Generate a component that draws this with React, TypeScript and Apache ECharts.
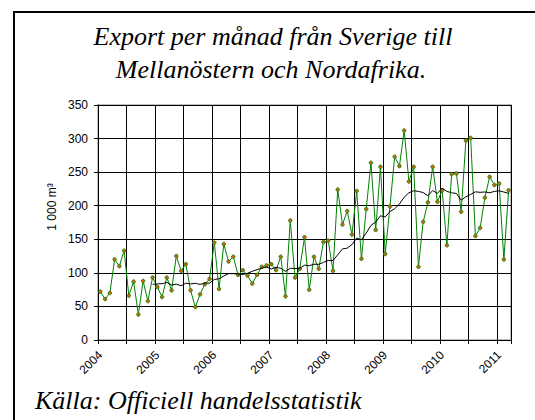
import React, { useEffect, useRef } from "react";
import * as echarts from "echarts";

const years = [2004, 2005, 2006, 2007, 2008, 2009, 2010, 2011];
const monthsInLastYear = 3;

// Monthly export, 1 000 m3
const exportValues = [
  72, 61, 70, 120, 110, 133, 66, 87, 38, 88, 58, 93,
  79, 64, 93, 74, 125, 103, 113, 74, 49, 68, 83, 91,
  145, 76, 143, 117, 124, 97, 104, 96, 84, 97, 109, 111,
  113, 104, 124, 65, 178, 93, 106, 153, 75, 124, 106, 146,
  148, 103, 224, 172, 192, 157, 222, 121, 195, 264, 164, 258,
  128, 199, 273, 259, 312, 236, 258, 109, 176, 205, 258, 206,
  223, 141, 247, 248, 191, 297, 301, 155, 167, 212, 243, 231,
  233, 120, 223,
];

// Trend line (12-month average)
const trendValues = [
  null, null, null, null, null, null, null, null, null, null, null, 83.0,
  83.6, 83.8, 85.8, 81.9, 83.2, 80.7, 84.6, 83.5, 84.4, 82.8, 84.8, 84.7,
  90.2, 91.2, 95.3, 98.9, 98.8, 98.3, 97.6, 99.4, 102.3, 104.8, 106.9, 108.6,
  105.9, 108.3, 106.7, 102.3, 106.8, 106.5, 106.7, 111.4, 110.7, 112.9, 112.7, 115.6,
  118.5, 118.4, 126.8, 135.7, 136.8, 142.2, 151.8, 149.2, 159.2, 170.8, 175.7, 185.0,
  183.3, 191.3, 195.4, 202.7, 212.7, 219.3, 222.3, 221.3, 219.7, 214.8, 222.6, 218.3,
  226.2, 221.3, 219.2, 218.3, 208.2, 213.3, 216.8, 220.7, 219.9, 220.5, 219.3, 221.3,
  222.2, 220.4, 218.4,
];

const yTicks = [0, 50, 100, 150, 200, 250, 300, 350];

const titleLines = ["Export per månad från Sverige till", "Mellanöstern och Nordafrika."];
const sourceText = "Källa: Officiell handelsstatistik";
const yAxisName = "1 000 m³";

const categories: string[] = [];
years.forEach((y, yi) => {
  const n = yi === years.length - 1 ? monthsInLastYear : 12;
  for (let m = 1; m <= n; m++) categories.push(`${y}-${m < 10 ? "0" + m : m}`);
});

export default function App() {
  const ref = useRef<HTMLDivElement>(null);
  useEffect(() => {
    if (!ref.current) return;
    const chart = echarts.init(ref.current, null, { renderer: "svg" });
    const serif = "'Liberation Serif', 'Times New Roman', serif";
    const sans = "'Liberation Sans', Arial, sans-serif";
    chart.setOption({
      animation: false,
      backgroundColor: "#ffffff",
      grid: {
        left: 98,
        right: 24,
        top: 105,
        bottom: 80,
        show: true,
        borderColor: "#c0c0c0",
        borderWidth: 2,
        backgroundColor: "transparent",
      },
      xAxis: {
        type: "category",
        data: categories,
        boundaryGap: true,
        axisLine: { show: true, lineStyle: { color: "#000", width: 1 } },
        axisTick: { show: true, interval: 5, length: 4, lineStyle: { color: "#000" } },
        splitLine: { show: true, interval: 5, lineStyle: { color: "#000", width: 1 } },
        axisLabel: {
          interval: 11,
          rotate: 45,
          margin: 13,
          fontSize: 12,
          fontFamily: sans,
          color: "#000",
          formatter: (v: string) => v.slice(0, 4),
        },
      },
      yAxis: {
        type: "value",
        min: yTicks[0],
        max: yTicks[yTicks.length - 1],
        interval: 50,
        axisLine: { show: true, lineStyle: { color: "#000", width: 1 } },
        axisTick: { show: true, length: 4, lineStyle: { color: "#000" } },
        splitLine: { show: true, lineStyle: { color: "#000", width: 1 } },
        axisLabel: { margin: 10, fontSize: 12, fontFamily: sans, color: "#000" },
      },
      series: [
        {
          type: "line",
          data: exportValues,
          symbol: "circle",
          symbolSize: 3.5,
          showSymbol: true,
          showAllSymbol: true,
          lineStyle: { color: "#008000", width: 1 },
          itemStyle: { color: "#e06000", borderColor: "#1a8a1a", borderWidth: 1 },
          z: 3,
        },
        {
          type: "line",
          data: trendValues,
          symbol: "none",
          connectNulls: false,
          lineStyle: { color: "#000", width: 1 },
          z: 4,
        },
      ],
      graphic: [
        {
          type: "rect",
          shape: { x: 14, y: 12, width: 700, height: 600 },
          style: { fill: "none", stroke: "#000", lineWidth: 2 },
          silent: true,
        },
        {
          type: "text",
          x: 273,
          y: 36,
          style: {
            text: titleLines[0],
            font: `italic 26px ${serif}`,
            fill: "#000",
            align: "center",
            verticalAlign: "middle",
          },
        },
        {
          type: "text",
          x: 271,
          y: 69,
          style: {
            text: titleLines[1],
            font: `italic 26px ${serif}`,
            fill: "#000",
            align: "center",
            verticalAlign: "middle",
          },
        },
        {
          type: "text",
          x: 35,
          y: 400,
          style: {
            text: sourceText,
            font: `italic 26px ${serif}`,
            fill: "#000",
            align: "left",
            verticalAlign: "middle",
          },
        },
        {
          type: "text",
          x: 52,
          y: 207,
          rotation: Math.PI / 2,
          style: {
            text: yAxisName,
            font: `12px ${sans}`,
            fill: "#000",
            align: "center",
            verticalAlign: "middle",
          },
        },
      ],
    });
    return () => chart.dispose();
  }, []);
  return (
    <div
      ref={ref}
      style={{ position: "fixed", left: 0, top: 0, width: 535, height: 420 }}
    />
  );
}
